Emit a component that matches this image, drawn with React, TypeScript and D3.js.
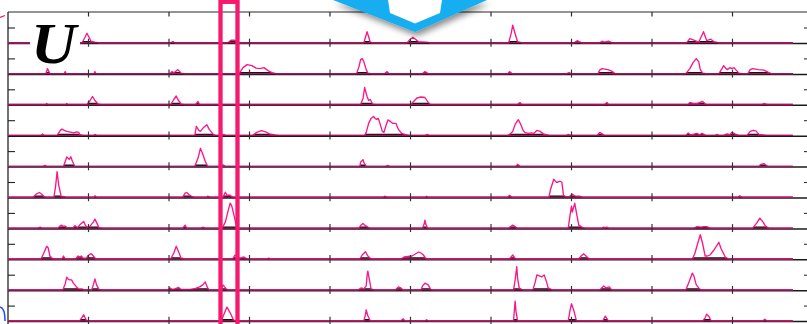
import React from "react";
import * as d3 from "d3";

type P = [number, number];

const X_TICKS = [100, 200, 300, 400, 500, 600, 700, 800, 900];
const ROW_IDS = [0, 1, 2, 3, 4, 5, 6, 7, 8, 9];
const X_END = 975;

const row01: P[] = [[0,0],[92,0],[96,6],[98,9.5],[101,5],[103,1.5],[108,0.5],[112,0],[202,0],[205,1.2],[207,0],[273,0],[277,2.5],[282,2.5],[286,0],[442,0],[445,8],[446,11],[448,6],[450,0.5],[452,0],[496,0],[499,3],[503,5.5],[507,3],[510,1],[520,0.5],[524,0],[622,0],[625,9],[627,17.5],[630,9],[633,1],[638,0],[703,0],[707,2],[712,0],[735,0],[738,1.5],[741,0.5],[746,1.5],[750,0],[843,0],[847,4],[852,2.5],[858,0.5],[864,11],[868,2],[873,3.5],[877,1],[882,0],[975,0]];
const row02: P[] = [[0,0],[47,0],[49,5],[52,0],[70,0],[71,2],[72,0],[107,0],[108,2],[109,0],[201,0],[204,2],[206,0.5],[211,4],[215,0.5],[219,0],[287,0],[292,6],[297,9],[303,8],[308,5.5],[313,5],[318,6],[323,3],[328,1],[333,0],[433,0],[436,7],[438,14],[440,15],[442,12],[445,4],[447,0.5],[451,0],[468,0],[471,2],[473,0],[515,0],[518,2],[522,0],[621,0],[623,2],[626,0],[694,0],[697,1],[699,0],[733,0],[735,3.5],[738,5],[745,4],[750,2.5],[754,0],[842,0],[847,5],[851,11],[855,15],[858,12],[860,4],[863,0.5],[867,0],[883,0],[887,5],[889,8],[892,5],[894,4],[897,6],[899,5],[902,6],[904,4],[908,0.5],[912,0],[919,0],[922,4],[925,5],[932,4],[939,3.5],[944,1.5],[948,0],[975,0]];
const row03: P[] = [[0,0],[47,0],[48,1],[50,0],[72,0],[73,1],[74.5,0],[98,0],[102,4],[105,8],[108,4],[112,0.5],[116,0],[202,0],[206,5],[209,8.5],[211,5],[215,0.5],[219,0],[233,0],[236,3],[238,0],[438,0],[441,6],[443,17],[446,8],[448,4],[450,5],[453,0.5],[457,0],[500,0],[504,3],[508,6.5],[513,7.5],[518,7],[522,2],[525,0],[633,0],[636,2],[638,0],[741,0],[744,2],[746,0],[845,0],[847,2],[851,1],[856,1],[863,3],[867,0],[936,0],[939,1],[943,0],[975,0]];
const row04: P[] = [[0,0],[41,0],[43,1.5],[45,0],[61,0],[65,5],[67,6.3],[70,5],[73,4],[79,3],[82,2.5],[85,3.5],[88,3],[89,1],[93,0],[107,0],[108,1],[110,0],[232,0],[234,9],[237,5],[239,4],[243,8],[247,10.7],[250,6],[253,3],[255,1],[258,0],[266,0],[268,1],[270,0],[304,0],[309,3],[315,4.7],[320,3.5],[325,1.5],[332,0.5],[337,0],[443,0],[445,3],[448,12],[451,17],[454,19],[456,17],[458,16],[460,17],[462,12],[465,4],[467,3],[470,11],[472,15.5],[475,14],[478,12],[482,12],[485,6],[489,2],[493,1],[499,0],[518,0],[521,1],[523,0],[621,0],[623,1],[627,4],[630,11],[634,15.7],[637,11],[640,5],[642,3],[646,2],[650,2.5],[653,2],[657,5],[661,4],[665,1.5],[673,0],[694,0],[696,1],[699,0],[732,0],[735,3],[741,0],[842,0],[845,2.5],[848,0.5],[856,2],[859,0.5],[862,2],[867,0],[878,0],[881,1],[883,0],[889,0],[893,1.5],[897,0.8],[899,3],[903,1.5],[908,0],[918,0],[922,4],[926,5],[929,4.5],[933,1],[938,0.5],[943,0],[975,0]];
const row05: P[] = [[0,0],[43.5,0],[46,1],[48,0],[69,0],[73,9.3],[76,7],[78,9.5],[80,5],[83,0],[232,0],[236,8],[239,18],[242,12],[245,5],[248,0],[266,0],[267,1.5],[270,0],[437,0],[438,4],[441,6.7],[442,4],[445,0],[469,0],[472,1],[474,0],[631,0],[633,2],[636,0],[933,0],[935,2],[939,2.7],[941,1.5],[944,0],[975,0]];
const row06: P[] = [[0,0],[31,0],[35,3],[39,4.7],[42,3],[45,0.5],[47,0],[57,0],[59,10],[61,25.6],[63,12],[66,1],[70,0.5],[72,0],[107,0],[108,1.5],[110,0],[217,0],[220,4],[222,4.7],[225,2.5],[229,0.5],[232,0],[247,0],[248,1],[251,0],[267,0],[270,5],[272,2],[276,2],[278,0.5],[281,0],[466,0],[468,1],[471,0],[518,0],[520,1],[522,0],[621,0],[623,2],[626,0],[672,0],[674,8],[678,18],[681,15],[683,15],[686,16],[688,15],[690,2],[693,0.5],[697,0.5],[701,3],[705,1],[710,1],[714,0],[907,0],[909,1.5],[912,0],[975,0]];
const row07: P[] = [[0,0],[37,0],[40,1],[42,0],[62,0],[65,2.5],[67,3],[68,2],[71,2],[73,0.5],[81,0.5],[83,2.5],[86,0.5],[89,3],[94,6.7],[96,3],[98,1],[102,2],[106,6],[108,9],[111,4],[113,0.5],[117,0],[217,0],[220,3],[222,0],[240,0],[242,1],[245,0],[266,0],[270,6],[273,16],[276,25],[278,22],[281,12],[284,1],[287,0],[436,0],[438,2.5],[441,4.7],[443,3],[447,1],[450,0],[515,0],[517,4],[518,8],[519,4],[521,0],[622,0],[627,3],[630,1.5],[632,0],[696,0],[698,12],[700,22],[701,16],[704,25],[706,16],[709,3],[713,1],[717,0],[738,0],[740,1],[741.5,0.5],[744,1],[746,0],[852,0],[856,1.5],[861,1],[864,1.5],[868,1.5],[872,0],[925,0],[930,5],[934,10],[938,6],[941,2],[945,0],[975,0]];
const row08: P[] = [[0,0],[41,0],[44,5],[48,12.7],[50,11],[52,3],[55,0.5],[58,0],[67,0],[69,3],[71,0],[84,0],[87,3],[89,2],[91,3],[93,1],[97,0.5],[99,3],[102,5],[104,5],[107,2],[109,0],[202,0],[206,6],[209,12.7],[212,7],[215,1],[219,0],[279,0],[282,4],[286,1],[289,1],[293,2],[296,0.5],[299,0],[322,0],[324,1],[325,0],[437,0],[440,4],[444,7.3],[447,3],[451,0],[488,0],[492,2],[497,2.5],[502,3],[506,5],[510,7],[513,6],[516,4],[519,0.5],[522,0],[623,0],[627,4],[630,0.5],[632,0],[709,0],[712,3],[715,5.3],[718,3],[722,0],[850,0],[853,5],[858,19],[860,24.3],[863,15],[866,3],[869,3],[872,4],[877,9],[883,16.7],[886,10],[891,2],[895,0],[975,0]];
const row09: P[] = [[0,0],[68,0],[71,6],[73,12.7],[75,10.5],[77,10],[79,10],[81,7],[85,3],[88,1],[92,1],[94,0],[104,0],[106,5],[108,11],[110,5],[113,0.5],[116,0],[199,0],[201,2],[204,0.5],[207,1],[212,2.5],[215,0.5],[226,0.5],[233,1.5],[238,3],[242,5],[245,8],[248,2],[250,0],[265,0],[267,5],[271,1],[273,0],[435,0],[439,2],[442,1],[445,4],[446,14],[447,18.7],[449,10],[451,1],[455,0],[481,0],[485,3],[488,2],[491,0],[513,0],[515,4],[518,6.7],[522,5],[525,0.5],[528,0],[628,0],[630,10],[632,23.3],[633,12],[635,2],[638,0.5],[641,0],[652,0],[655,8],[657,15],[660,14],[663,13],[666,15],[669,8],[671,2],[676,0],[735,0],[740,4],[743,2],[747,3],[750,0],[842,0],[846,8],[850,16.7],[852,14],[855,5],[858,2],[861,0],[975,0]];
const row10: P[] = [[0,0],[89,0],[94,6],[97,1],[99,0],[265,0],[268,6],[272,13.7],[276,8],[280,1],[283,0],[442,0],[444,6],[445,11],[447,5],[450,0],[488,0],[491,2],[493,0],[518,0],[520,1],[522,0],[628,0],[629,10],[630,19.7],[631,10],[633,0],[696,0],[698,10],[700,17],[703,10],[706,0.5],[708,0],[739,0],[742,4.7],[745,1],[746,0],[863,0],[866,3],[868,6.7],[871,4],[873,0.5],[876,0],[938,0],[940,1.5],[943,0],[975,0]];

const ROWS: P[][] = [row01, row02, row03, row04, row05, row06, row07, row08, row09, row10];

const W = 807;
const H = 324;

export default function App() {
  const x = d3.scaleLinear().domain([0, 1000]).range([8, 813]);
  const yRow = d3.scaleLinear().domain([0, 9]).range([42.7, 320.8]);
  const amp = d3.scaleLinear().domain([0, 30]).range([0, 30]);

  const PINK = "#f8188a";
  const MAROON = "#a3145e";

  return (
    <svg
      width={W}
      height={H}
      viewBox={`0 0 ${W} ${H}`}
      style={{ position: "fixed", left: 0, top: 0, background: "#fff" }}
    >
      <defs>
        <filter id="shadow" x="-20%" y="-50%" width="140%" height="220%">
          <feDropShadow dx="2" dy="4" stdDeviation="3" floodColor="#000" floodOpacity="0.45" />
        </filter>
        {ROW_IDS.map((r) => {
          const b = yRow(r);
          return (
            <clipPath id={`clip${r}`} key={r}>
              <rect x={0} y={b - 1.7} width={W} height={2.7} />
            </clipPath>
          );
        })}
      </defs>
      <rect x={0} y={0} width={W} height={H} fill="#fff" />

      {/* top frame */}
      <line x1={8} x2={W} y1={12} y2={12} stroke="#2a2a2a" strokeWidth={1.2} />
      {X_TICKS.map((t) => (
        <line key={t} x1={x(t)} x2={x(t)} y1={12} y2={16.5} stroke="#2a2a2a" strokeWidth={1.2} />
      ))}
      {/* left axis */}
      <line x1={8} x2={8} y1={12} y2={H} stroke="#111" strokeWidth={1.2} />

      {ROWS.map((data, r) => {
        const b = yRow(r);
        const line = d3
          .line<P>()
          .x((d) => x(d[0]))
          .y((d) => b - amp(d[1]));
        const area = d3
          .area<P>()
          .x((d) => x(d[0]))
          .y0(b + 0.8)
          .y1((d) => b - amp(d[1]));
        return (
          <g key={r}>
            <line x1={8} x2={W} y1={b + 0.8} y2={b + 0.8} stroke="#1a1a1a" strokeWidth={1.5} />
            <path d={area(data) || ""} fill="#111" clipPath={`url(#clip${r})`} />
            <path d={line(data) || ""} fill="none" stroke={PINK} strokeWidth={1.35} strokeLinejoin="round" />
            <line x1={x(0)} x2={x(X_END)} y1={b} y2={b} stroke={MAROON} strokeWidth={1.3} />
            {X_TICKS.map((t) => (
              <line key={t} x1={x(t)} x2={x(t)} y1={b - 4} y2={b + 4} stroke="#333" strokeWidth={1.2} />
            ))}
            <line x1={8} x2={15} y1={b - 14.7} y2={b - 14.7} stroke="#222" strokeWidth={1.1} />
            <line x1={804} x2={W} y1={b - 14.7} y2={b - 14.7} stroke="#333" strokeWidth={1.1} />
          </g>
        );
      })}

      {/* U label */}
      <rect x={30} y={22} width={50} height={44} fill="#fff" />
      <text
        x={0}
        y={0}
        transform="translate(31,62.5) scale(1.1,1)"
        fontFamily="'Liberation Serif', 'Times New Roman', serif"
        fontWeight="bold"
        fontStyle="italic"
        fontSize={57}
        fill="#000"
      >
        U
      </text>

      {/* highlight rectangle */}
      <rect x={220.5} y={1.8} width={17} height={340} fill="none" stroke="#f51a6d" strokeWidth={4.3} />

      {/* corner marks */}
      <line x1={0} y1={17.5} x2={5} y2={15.5} stroke="#e0205a" strokeWidth={1.2} />
      <path d="M0,307 Q5,308 5,321" fill="none" stroke="#2a4cff" strokeWidth={1.6} />

      {/* arrow */}
      <g filter="url(#shadow)">
        <polygon points="333,0 415,32 487,0" fill="#12aef0" />
        <polygon points="388,0 390,13 415,23.5 440,13 442,0" fill="#fff" />
      </g>
    </svg>
  );
}
